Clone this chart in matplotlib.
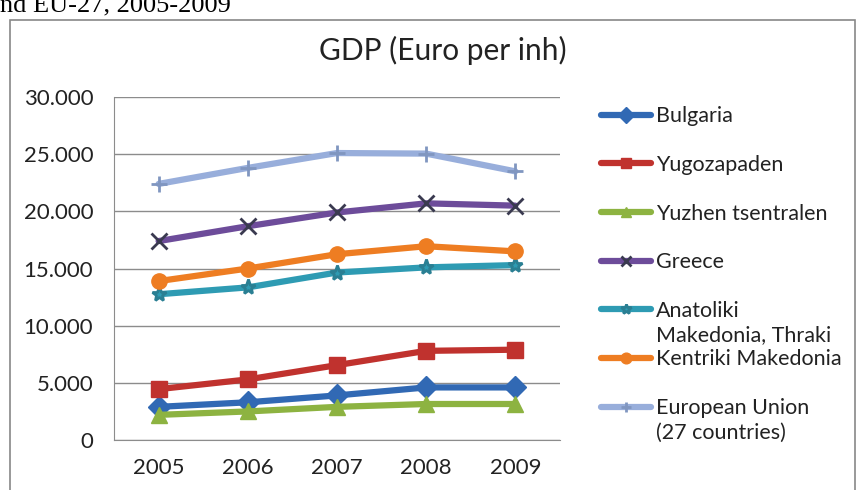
import matplotlib.pyplot as plt
from matplotlib.patches import Rectangle
from matplotlib.ticker import FuncFormatter

plt.rcParams['font.family'] = ['Lato', 'DejaVu Sans']

years = ['2005', '2006', '2007', '2008', '2009']
bulgaria = [2900, 3300, 3900, 4600, 4600]
yugozapaden = [4450, 5300, 6550, 7800, 7900]
yuzhen = [2200, 2500, 2900, 3150, 3150]
greece = [17400, 18700, 19900, 20700, 20500]
anatoliki = [12750, 13350, 14650, 15100, 15300]
kentriki = [13900, 15000, 16250, 16950, 16500]
eu27 = [22400, 23800, 25100, 25050, 23500]

# label first line, optional wrapped second line
series = [
    ('Bulgaria', '', bulgaria, '#3169B4', 'D'),
    ('Yugozapaden', '', yugozapaden, '#C0322E', 's'),
    ('Yuzhen tsentralen', '', yuzhen, '#8DB341', '^'),
    ('Greece', '', greece, '#6D4C9A', 'x'),
    ('Anatoliki', 'Makedonia, Thraki', anatoliki, '#2E9BB3', '*'),
    ('Kentriki Makedonia', '', kentriki, '#EE7D22', 'o'),
    ('European Union', '(27 countries)', eu27, '#98AEDB', '+'),
]

fig = plt.figure(figsize=(8.64, 4.90), dpi=100)
ax = fig.add_axes([0.132, 0.102, 0.516, 0.700])

x = list(range(len(years)))
lines = []
for name, extra, vals, col, m in series:
    mec = col
    if m == 'x':
        mec = '#3a3a50'
    elif m == '*':
        mec = '#2a7f93'
    elif m == '+':
        mec = '#8096c0'
    ln, = ax.plot(x, vals, color=col, lw=4.5, marker=m, markersize=11,
                  markerfacecolor=col, markeredgecolor=mec,
                  markeredgewidth=2 if m in ('x', '*', '+') else 1,
                  label=name, solid_capstyle='round')
    lines.append(ln)

ax.set_xlim(-0.5, 4.5)
ax.set_ylim(0, 30000)
ax.set_yticks(range(0, 30001, 5000))
ax.yaxis.set_major_formatter(FuncFormatter(lambda v, p: '0' if v == 0 else f'{int(v):,}'.replace(',', '.')))
ax.set_xticks(x)
ax.set_xticklabels(years)
ax.tick_params(axis='both', labelsize=16, colors='#222222', length=0)
ax.tick_params(axis='x', pad=13)
ax.tick_params(axis='y', pad=15)
ax.grid(axis='y', color='#8c8c8c', lw=1)
ax.set_axisbelow(True)
for s in ['top', 'right']:
    ax.spines[s].set_visible(False)
for s in ['left', 'bottom']:
    ax.spines[s].set_color('#8c8c8c')

fig.text(0.513, 0.897, 'GDP (Euro per inh)', ha='center', va='center', fontsize=21.5, color='#222222')

leg = fig.legend(handles=lines, labels=[s[0] for s in series], loc='upper left',
                 bbox_to_anchor=(0.696, 0.783), frameon=False, borderpad=0, borderaxespad=0,
                 fontsize=15.5, handlelength=2.3, handletextpad=0.25, labelspacing=1.33,
                 markerscale=0.7, labelcolor='#222222')

# wrapped second lines of the long legend labels
fig.canvas.draw()
for t, s in zip(leg.get_texts(), series):
    if s[1]:
        bb = t.get_window_extent()
        fig.text(bb.x0 / 864, (bb.y0 - 24.5) / 490, s[1], fontsize=15.5, color='#222222',
                 ha='left', va='bottom')

fig.patches.append(Rectangle((10 / 864, -0.01), 845 / 864, 1 - 20 / 490 + 0.01,
                             transform=fig.transFigure, fill=False, ec='#888888', lw=1.2))

fig.text(0.0, 1 - 11 / 490, 'nd EU-27, 2005-2009', family='Liberation Serif', fontsize=19,
         va='baseline', ha='left', color='black')

fig.savefig('out.png', dpi=100)
